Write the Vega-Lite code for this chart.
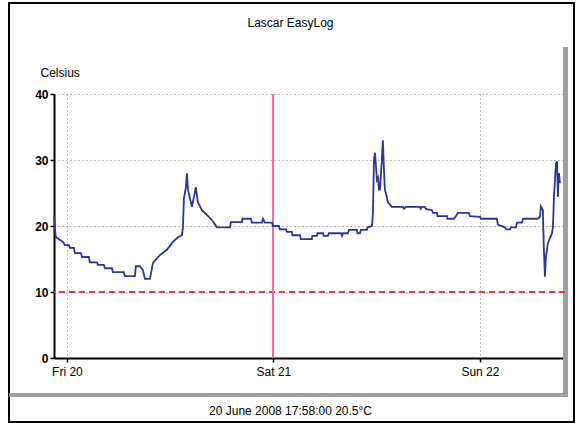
{
  "$schema": "https://vega.github.io/schema/vega-lite/v6.json",
  "width": 511,
  "height": 264,
  "autosize": {"type": "none"},
  "padding": {"left": 54, "top": 94, "right": 13, "bottom": 65},
  "background": "white",
  "config": {
    "view": {"stroke": null},
    "font": "Liberation Sans",
    "axis": {"labelFont": "Liberation Sans", "titleFont": "Liberation Sans", "labelColor": "#000", "titleColor": "#000"}
  },
  "title": {"text": "Lascar EasyLog", "fontSize": 12, "fontWeight": "normal", "font": "Liberation Sans", "color": "#000", "anchor": "middle", "dx": -19, "offset": 0, "dy": 28},
  "data": {"values": [
    {"t": "2008-06-19T22:31:00", "v": 21.5},
    {"t": "2008-06-19T22:36:00", "v": 19.7},
    {"t": "2008-06-19T22:43:00", "v": 18.3},
    {"t": "2008-06-19T23:11:00", "v": 17.9},
    {"t": "2008-06-19T23:32:00", "v": 17.6},
    {"t": "2008-06-19T23:46:00", "v": 17.1},
    {"t": "2008-06-20T00:14:00", "v": 17.1},
    {"t": "2008-06-20T00:21:00", "v": 16.7},
    {"t": "2008-06-20T00:49:00", "v": 16.7},
    {"t": "2008-06-20T00:56:00", "v": 15.9},
    {"t": "2008-06-20T01:38:00", "v": 15.9},
    {"t": "2008-06-20T01:45:00", "v": 15.3},
    {"t": "2008-06-20T02:33:00", "v": 15.3},
    {"t": "2008-06-20T02:40:00", "v": 14.5},
    {"t": "2008-06-20T03:29:00", "v": 14.5},
    {"t": "2008-06-20T03:36:00", "v": 14.1},
    {"t": "2008-06-20T04:18:00", "v": 14.1},
    {"t": "2008-06-20T04:25:00", "v": 13.6},
    {"t": "2008-06-20T05:14:00", "v": 13.6},
    {"t": "2008-06-20T05:21:00", "v": 13.0},
    {"t": "2008-06-20T06:37:00", "v": 13.0},
    {"t": "2008-06-20T06:44:00", "v": 12.4},
    {"t": "2008-06-20T07:54:00", "v": 12.4},
    {"t": "2008-06-20T08:01:00", "v": 13.9},
    {"t": "2008-06-20T08:29:00", "v": 13.9},
    {"t": "2008-06-20T08:50:00", "v": 13.3},
    {"t": "2008-06-20T09:04:00", "v": 12.0},
    {"t": "2008-06-20T09:39:00", "v": 12.0},
    {"t": "2008-06-20T10:00:00", "v": 14.4},
    {"t": "2008-06-20T10:48:00", "v": 15.6},
    {"t": "2008-06-20T11:37:00", "v": 16.4},
    {"t": "2008-06-20T12:19:00", "v": 17.6},
    {"t": "2008-06-20T12:54:00", "v": 18.3},
    {"t": "2008-06-20T13:22:00", "v": 18.6},
    {"t": "2008-06-20T13:29:00", "v": 19.8},
    {"t": "2008-06-20T13:36:00", "v": 24.2},
    {"t": "2008-06-20T13:50:00", "v": 25.9},
    {"t": "2008-06-20T13:57:00", "v": 28.0},
    {"t": "2008-06-20T14:04:00", "v": 25.5},
    {"t": "2008-06-20T14:32:00", "v": 22.9},
    {"t": "2008-06-20T14:59:00", "v": 25.9},
    {"t": "2008-06-20T15:13:00", "v": 23.6},
    {"t": "2008-06-20T15:41:00", "v": 22.4},
    {"t": "2008-06-20T16:16:00", "v": 21.7},
    {"t": "2008-06-20T16:51:00", "v": 20.9},
    {"t": "2008-06-20T17:26:00", "v": 19.8},
    {"t": "2008-06-20T18:57:00", "v": 19.8},
    {"t": "2008-06-20T19:04:00", "v": 20.6},
    {"t": "2008-06-20T20:20:00", "v": 20.6},
    {"t": "2008-06-20T20:24:00", "v": 21.1},
    {"t": "2008-06-20T21:23:00", "v": 21.1},
    {"t": "2008-06-20T21:30:00", "v": 20.5},
    {"t": "2008-06-20T22:40:00", "v": 20.5},
    {"t": "2008-06-20T22:47:00", "v": 21.1},
    {"t": "2008-06-20T23:01:00", "v": 20.5},
    {"t": "2008-06-20T23:50:00", "v": 20.5},
    {"t": "2008-06-20T23:56:00", "v": 20.0},
    {"t": "2008-06-21T00:38:00", "v": 20.0},
    {"t": "2008-06-21T00:45:00", "v": 19.5},
    {"t": "2008-06-21T01:27:00", "v": 19.5},
    {"t": "2008-06-21T01:34:00", "v": 19.1},
    {"t": "2008-06-21T02:09:00", "v": 19.1},
    {"t": "2008-06-21T02:12:00", "v": 18.6},
    {"t": "2008-06-21T03:05:00", "v": 18.6},
    {"t": "2008-06-21T03:12:00", "v": 18.0},
    {"t": "2008-06-21T04:28:00", "v": 18.0},
    {"t": "2008-06-21T04:32:00", "v": 18.5},
    {"t": "2008-06-21T05:03:00", "v": 18.5},
    {"t": "2008-06-21T05:07:00", "v": 18.9},
    {"t": "2008-06-21T05:45:00", "v": 18.9},
    {"t": "2008-06-21T05:52:00", "v": 18.5},
    {"t": "2008-06-21T06:20:00", "v": 18.5},
    {"t": "2008-06-21T06:27:00", "v": 18.9},
    {"t": "2008-06-21T07:51:00", "v": 18.9},
    {"t": "2008-06-21T07:58:00", "v": 18.5},
    {"t": "2008-06-21T08:05:00", "v": 18.9},
    {"t": "2008-06-21T08:39:00", "v": 18.9},
    {"t": "2008-06-21T08:46:00", "v": 19.4},
    {"t": "2008-06-21T09:42:00", "v": 19.4},
    {"t": "2008-06-21T09:46:00", "v": 18.9},
    {"t": "2008-06-21T10:03:00", "v": 18.9},
    {"t": "2008-06-21T10:10:00", "v": 19.4},
    {"t": "2008-06-21T10:52:00", "v": 19.4},
    {"t": "2008-06-21T10:56:00", "v": 19.8},
    {"t": "2008-06-21T11:27:00", "v": 20.0},
    {"t": "2008-06-21T11:34:00", "v": 22.0},
    {"t": "2008-06-21T11:41:00", "v": 30.0},
    {"t": "2008-06-21T11:48:00", "v": 31.1},
    {"t": "2008-06-21T12:02:00", "v": 27.0},
    {"t": "2008-06-21T12:09:00", "v": 27.3},
    {"t": "2008-06-21T12:16:00", "v": 25.5},
    {"t": "2008-06-21T12:23:00", "v": 25.5},
    {"t": "2008-06-21T12:36:00", "v": 30.0},
    {"t": "2008-06-21T12:43:00", "v": 33.0},
    {"t": "2008-06-21T12:50:00", "v": 28.9},
    {"t": "2008-06-21T12:57:00", "v": 25.5},
    {"t": "2008-06-21T13:11:00", "v": 24.4},
    {"t": "2008-06-21T13:18:00", "v": 23.6},
    {"t": "2008-06-21T13:46:00", "v": 22.9},
    {"t": "2008-06-21T15:03:00", "v": 22.9},
    {"t": "2008-06-21T15:10:00", "v": 22.6},
    {"t": "2008-06-21T15:24:00", "v": 22.9},
    {"t": "2008-06-21T17:01:00", "v": 22.9},
    {"t": "2008-06-21T17:08:00", "v": 22.6},
    {"t": "2008-06-21T17:15:00", "v": 22.9},
    {"t": "2008-06-21T17:36:00", "v": 22.9},
    {"t": "2008-06-21T17:43:00", "v": 22.6},
    {"t": "2008-06-21T18:25:00", "v": 22.4},
    {"t": "2008-06-21T18:32:00", "v": 22.0},
    {"t": "2008-06-21T19:00:00", "v": 22.0},
    {"t": "2008-06-21T19:04:00", "v": 21.5},
    {"t": "2008-06-21T20:10:00", "v": 21.5},
    {"t": "2008-06-21T20:13:00", "v": 21.1},
    {"t": "2008-06-21T20:59:00", "v": 21.1},
    {"t": "2008-06-21T21:13:00", "v": 21.5},
    {"t": "2008-06-21T21:26:00", "v": 22.0},
    {"t": "2008-06-21T22:43:00", "v": 22.0},
    {"t": "2008-06-21T22:50:00", "v": 21.5},
    {"t": "2008-06-22T00:00:00", "v": 21.4},
    {"t": "2008-06-22T00:07:00", "v": 21.1},
    {"t": "2008-06-22T01:58:00", "v": 21.1},
    {"t": "2008-06-22T02:05:00", "v": 20.2},
    {"t": "2008-06-22T02:54:00", "v": 19.8},
    {"t": "2008-06-22T03:01:00", "v": 19.5},
    {"t": "2008-06-22T03:29:00", "v": 19.5},
    {"t": "2008-06-22T03:36:00", "v": 19.8},
    {"t": "2008-06-22T04:11:00", "v": 19.8},
    {"t": "2008-06-22T04:18:00", "v": 20.5},
    {"t": "2008-06-22T04:53:00", "v": 20.5},
    {"t": "2008-06-22T05:00:00", "v": 21.1},
    {"t": "2008-06-22T06:44:00", "v": 21.1},
    {"t": "2008-06-22T06:58:00", "v": 21.4},
    {"t": "2008-06-22T07:05:00", "v": 23.0},
    {"t": "2008-06-22T07:19:00", "v": 22.4},
    {"t": "2008-06-22T07:22:00", "v": 19.4},
    {"t": "2008-06-22T07:26:00", "v": 16.4},
    {"t": "2008-06-22T07:33:00", "v": 12.3},
    {"t": "2008-06-22T07:40:00", "v": 15.3},
    {"t": "2008-06-22T07:54:00", "v": 17.4},
    {"t": "2008-06-22T08:22:00", "v": 18.9},
    {"t": "2008-06-22T08:29:00", "v": 19.8},
    {"t": "2008-06-22T08:36:00", "v": 24.4},
    {"t": "2008-06-22T08:43:00", "v": 27.0},
    {"t": "2008-06-22T08:50:00", "v": 29.5},
    {"t": "2008-06-22T08:57:00", "v": 29.8},
    {"t": "2008-06-22T09:04:00", "v": 24.4},
    {"t": "2008-06-22T09:07:00", "v": 27.0},
    {"t": "2008-06-22T09:11:00", "v": 28.0},
    {"t": "2008-06-22T09:18:00", "v": 26.5}
  ]},
  "layer": [
    {
      "mark": {"type": "rect", "fill": null, "stroke": "#000", "strokeWidth": 1.5, "clip": false},
      "encoding": {
        "x": {"datum": {"year": 2008, "month": 6, "date": 19, "hours": 17, "minutes": 16}, "type": "temporal"},
        "x2": {"datum": {"year": 2008, "month": 6, "date": 22, "hours": 10, "minutes": 55}},
        "y": {"datum": 53.8, "type": "quantitative"},
        "y2": {"datum": -9.7}
      }
    },
    {
      "mark": {"type": "rule", "stroke": "#a0a0a0", "strokeWidth": 4, "clip": false},
      "encoding": {
        "x": {"datum": {"year": 2008, "month": 6, "date": 22, "hours": 9, "minutes": 56}, "type": "temporal"},
        "y": {"datum": 47.0, "type": "quantitative"},
        "y2": {"datum": -5.8}
      }
    },
    {
      "mark": {"type": "rule", "stroke": "#a0a0a0", "strokeWidth": 4, "clip": false},
      "encoding": {
        "x": {"datum": {"year": 2008, "month": 6, "date": 19, "hours": 17, "minutes": 23}, "type": "temporal"},
        "x2": {"datum": {"year": 2008, "month": 6, "date": 22, "hours": 9, "minutes": 58}},
        "y": {"datum": -5.6, "type": "quantitative"}
      }
    },
    {
      "mark": {"type": "rule", "stroke": "#ff3344", "strokeWidth": 2, "strokeDash": [6, 4]},
      "encoding": {"y": {"datum": 10, "type": "quantitative"}}
    },
    {
      "mark": {"type": "rule", "stroke": "#f070a0", "strokeWidth": 1},
      "encoding": {"x": {"datum": {"year": 2008, "month": 6, "date": 21}, "type": "temporal"}}
    },
    {
      "mark": {"type": "line", "stroke": "#2e3596", "strokeWidth": 1.8, "interpolate": "linear"},
      "encoding": {
        "x": {
          "field": "t", "type": "temporal",
          "scale": {"domain": [{"year": 2008, "month": 6, "date": 19, "hours": 22, "minutes": 30}, {"year": 2008, "month": 6, "date": 22, "hours": 9, "minutes": 53}], "nice": false},
          "axis": {
            "format": "%a %d", "tickCount": {"interval": "day", "step": 1},
            "labelFontSize": 12, "labelPadding": 4,
            "domainColor": "#000", "domainWidth": 2, "tickColor": "#000", "tickSize": 4, "tickWidth": 1.5,
            "grid": true, "gridColor": "#777", "gridDash": [1, 3], "gridWidth": 1,
            "title": "20 June 2008 17:58:00  20.5°C", "titleFontSize": 12, "titleFontWeight": "normal",
            "titleX": 236, "titleY": 52, "titleBaseline": "middle", "titleAnchor": null, "titleAlign": "center"
          }
        },
        "y": {
          "field": "v", "type": "quantitative",
          "scale": {"domain": [0, 40], "nice": false},
          "axis": {
            "values": [0, 5, 10, 15, 20, 25, 30, 35, 40],
            "labelExpr": "datum.value % 10 === 0 ? datum.label : ''",
            "labelFontSize": 12, "labelFontWeight": "bold", "labelPadding": 2,
            "domainColor": "#000", "domainWidth": 2, "tickColor": "#000", "tickSize": 4, "tickWidth": 1.5,
            "grid": true, "gridColor": "#777", "gridDash": [1, 3], "gridWidth": 1,
            "gridOpacity": {"condition": {"test": "datum.value % 10 === 0 && datum.value > 0", "value": 1}, "value": 0},
            "title": "Celsius", "titleAngle": 0, "titleFontSize": 12, "titleFontWeight": "normal",
            "titleX": -14, "titleY": -22, "titleAlign": "left", "titleBaseline": "middle", "titleAnchor": null
          }
        }
      }
    }
  ]
}
